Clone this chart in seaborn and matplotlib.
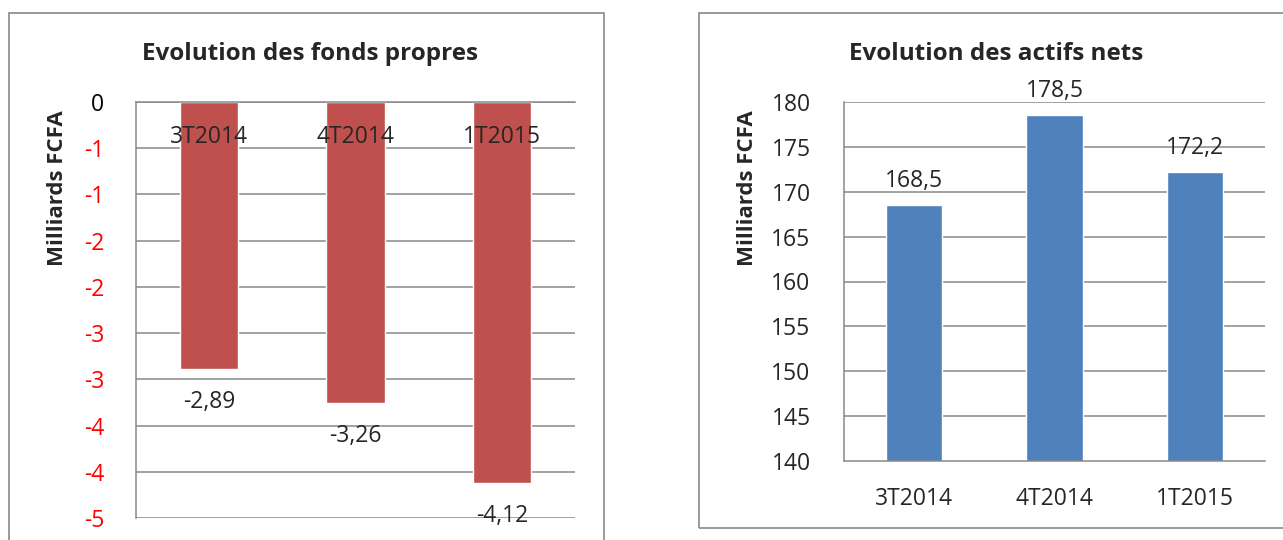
import matplotlib
matplotlib.use("Agg")
import matplotlib.pyplot as plt
from matplotlib.patches import Rectangle
import seaborn as sns
import numpy as np

# ---- data ----
categories = ["3T2014", "4T2014", "1T2015"]
fonds_propres = [-2.89, -3.26, -4.12]
actifs_nets = [168.5, 178.5, 172.2]

left_ticks = [0, -0.5, -1.0, -1.5, -2.0, -2.5, -3.0, -3.5, -4.0, -4.5]
left_tick_labels = ["0", "-1", "-1", "-2", "-2", "-3", "-3", "-4", "-4", "-5"]
right_ticks = [140, 145, 150, 155, 160, 165, 170, 175, 180]
right_tick_labels = ["140", "145", "150", "155", "160", "165", "170", "175", "180"]

title_left = "Evolution des fonds propres"
title_right = "Evolution des actifs nets"
ylabel = "Milliards FCFA"

# ---- style ----
sns.set_style("white")
plt.rcParams["font.family"] = ["Open Sans", "DejaVu Sans"]

RED = "#C0504D"
BLUE = "#4F81BD"
GRID = "#898989"
FRAME = "#898989"

FS = 16.5    # tick / data labels
FS_T = 17.5  # titles
FS_Y = 16    # y axis title

W, H = 1283, 540
fig = plt.figure(figsize=(W / 100, H / 100), dpi=100)

def fx(px):
    return px / W

def fy(py):
    return 1 - py / H

# chart frames
fig.patches.append(Rectangle((fx(9), fy(548)), fx(604) - fx(9), fy(13) - fy(548),
                             transform=fig.transFigure, fill=False, edgecolor=FRAME, lw=1.2))
fig.patches.append(Rectangle((fx(699), fy(528)), fx(1296) - fx(699), fy(13) - fy(528),
                             transform=fig.transFigure, fill=False, edgecolor=FRAME, lw=1.2))

fmt = lambda v: f"{v:.2f}".replace(".", ",")
fmt1 = lambda v: f"{v:.1f}".replace(".", ",")

# ---- left chart ----
axL = fig.add_axes([fx(136), fy(518), fx(575) - fx(136), fy(102) - fy(518)])
sns.barplot(x=categories, y=fonds_propres, color=RED, saturation=1, width=0.4, ax=axL, zorder=1)
axL.set_axisbelow(False)
axL.set_xlim(-0.5, 2.5)
axL.set_ylim(-4.5, 0)
for t in left_ticks:
    axL.axhline(t, color=GRID, lw=1.1, zorder=0.5)
axL.set_yticks(left_ticks)
axL.set_yticklabels(left_tick_labels, fontsize=FS)
for lab, t in zip(axL.get_yticklabels(), left_ticks):
    lab.set_color("#FF0000" if t < 0 else "black")
axL.xaxis.set_ticks_position("top")
axL.tick_params(axis="x", labeltop=True, labelbottom=False, length=0, pad=-34, labelsize=FS)
axL.tick_params(axis="y", length=0, pad=23)
for s in ["bottom", "right"]:
    axL.spines[s].set_visible(False)
for s in ["left", "top"]:
    axL.spines[s].set_color(GRID)
    axL.spines[s].set_linewidth(1.1)
axL.bar_label(axL.containers[0], labels=[fmt(v) for v in fonds_propres], padding=15, fontsize=FS)
axL.set_title(title_left, fontsize=FS_T, fontweight="bold", x=0.396, pad=30)
axL.set_xlabel("")
axL.set_ylabel(ylabel, fontsize=FS_Y, fontweight="bold")
axL.yaxis.set_label_coords(-0.155, 0.792)

# ---- right chart ----
axR = fig.add_axes([fx(844), fy(461), fx(1265) - fx(844), fy(102) - fy(461)])
sns.barplot(x=categories, y=actifs_nets, color=BLUE, saturation=1, width=0.4, ax=axR, zorder=1)
axR.set_axisbelow(False)
axR.set_xlim(-0.5, 2.5)
axR.set_ylim(140, 180)
for t in right_ticks[1:]:
    axR.axhline(t, color=GRID, lw=1.1, zorder=0.5)
axR.set_yticks(right_ticks)
axR.set_yticklabels(right_tick_labels, fontsize=FS)
axR.tick_params(axis="x", length=0, pad=19, labelsize=FS)
axR.tick_params(axis="y", length=0, pad=24)
for s in ["top", "right"]:
    axR.spines[s].set_visible(False)
for s in ["left", "bottom"]:
    axR.spines[s].set_color(GRID)
    axR.spines[s].set_linewidth(1.1)
axR.bar_label(axR.containers[0], labels=[fmt1(v) for v in actifs_nets], padding=9, fontsize=FS)
axR.set_title(title_right, fontsize=FS_T, fontweight="bold", x=0.361, pad=30)
axR.set_xlabel("")
axR.set_ylabel(ylabel, fontsize=FS_Y, fontweight="bold")
axR.yaxis.set_label_coords(-0.204, 0.761)

fig.savefig("out.png", dpi=100)
